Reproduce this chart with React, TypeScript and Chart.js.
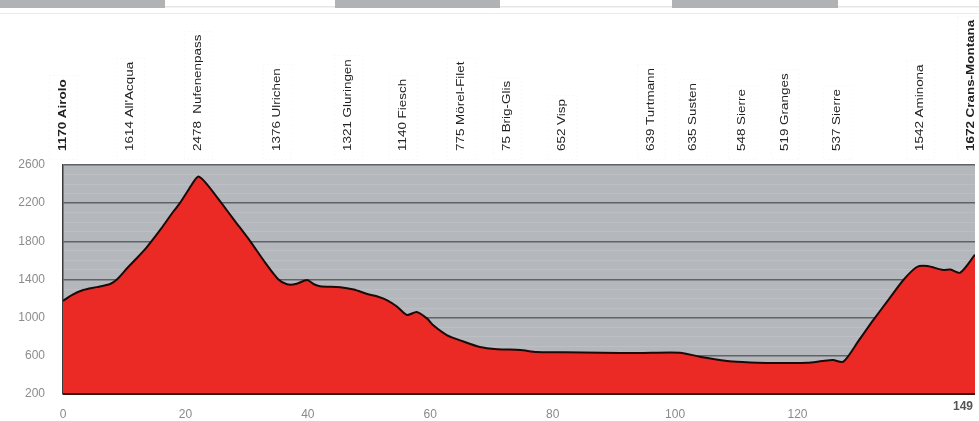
import React, { useEffect, useRef } from "react";
import { Chart, registerables } from "chart.js";

Chart.register(...registerables);

// Profile: distance (km) and altitude (m)
const distanceKm = [
  0, 1.5, 3.3, 5.5, 7.7, 8.8, 10.5, 12, 13.7, 16, 18, 19.1, 20.5, 21.5, 22.2, 23.5, 25.9, 28,
  30.6, 33, 35.2, 36.6, 38, 39.9, 41, 42, 45.3, 47.5, 49.7, 51.5, 52.9, 54.5, 56.2, 57.8, 59.5,
  60.5, 62.7, 65, 68.1, 71, 74.7, 77.4, 82, 88, 94, 100.8, 104, 108.5, 111, 115, 121.6, 124,
  125.8, 127.5, 130, 132.4, 135, 137.3, 139.5, 141.2, 143.8, 145, 146.6, 149,
];
const altitudeM = [
  1175, 1240, 1290, 1320, 1353, 1400, 1520, 1620, 1740, 1930, 2110, 2200, 2340, 2440, 2478, 2400,
  2200, 2020, 1800, 1580, 1400, 1350, 1352, 1395, 1350, 1330, 1320, 1295, 1248, 1220, 1185,
  1120, 1028, 1060, 990, 920, 818, 760, 693, 670, 661, 640, 638, 632, 630, 633, 591, 546, 535,
  525, 528, 545, 556, 539, 760, 976, 1200, 1395, 1531, 1541, 1500, 1505, 1471, 1660,
];

// Place labels along the route
const placeKm = [0, 11, 22, 35, 46.5, 55.5, 65, 72.5, 81.5, 96, 103, 111, 118, 126.5, 140, 148.3];
const placeLabels = [
  "1170 Airolo",
  "1614 All'Acqua",
  "2478  Nufenenpass",
  "1376 Ulrichen",
  "1321 Gluringen",
  "1140 Fiesch",
  "775 Mörel-Filet",
  "75 Brig-Glis",
  "652 Visp",
  "639 Turtmann",
  "635 Susten",
  "548 Sierre",
  "519 Granges",
  "537 Sierre",
  "1542 Aminona",
  "1672 Crans-Montana",
];
const placeBold = [true, false, false, false, false, false, false, false, false, false, false, false, false, false, false, true];

const xTickValues = [0, 20, 40, 60, 80, 100, 120, 149];
const yTickValues = [200, 600, 1000, 1400, 1800, 2200, 2600];

const FONT = "'Liberation Sans', Arial, sans-serif";

export default function App() {
  const canvasRef = useRef<HTMLCanvasElement | null>(null);

  useEffect(() => {
    document.body.style.margin = "0";
    const canvas = canvasRef.current;
    if (!canvas) return;

    const decorPlugin = {
      id: "decor",
      beforeDraw(chart: any) {
        const { ctx, chartArea } = chart;
        ctx.save();
        ctx.fillStyle = "#ffffff";
        ctx.fillRect(0, 0, chart.width, chart.height);
        ctx.fillStyle = "#b4b7bc";
        ctx.fillRect(chartArea.left, chartArea.top, chartArea.right - chartArea.left, chartArea.bottom - chartArea.top);
        ctx.restore();
      },
      afterDraw(chart: any) {
        const { ctx, chartArea } = chart;
        const xs = chart.scales.x;
        ctx.save();
        // header stripes
        const bands = [
          [0, 165, true],
          [165, 335, false],
          [335, 500, true],
          [500, 672, false],
          [672, 838, true],
          [838, 979, false],
        ];
        for (const [a, b, g] of bands as any) {
          if (g) {
            ctx.fillStyle = "#b1b2b4";
            ctx.fillRect(a, 0, b - a, 8);
          } else {
            ctx.fillStyle = "#e6e6e6";
            ctx.fillRect(a, 6, b - a, 1.5);
          }
        }
        ctx.strokeStyle = "#ececec";
        ctx.lineWidth = 1;
        ctx.beginPath();
        ctx.moveTo(0, 13.5);
        ctx.lineTo(979, 13.5);
        ctx.stroke();

        // place labels (rotated)
        placeLabels.forEach((label, i) => {
          const px = xs.getPixelForValue(placeKm[i]);
          ctx.save();
          ctx.font = `${placeBold[i] ? "bold " : ""}11px ${FONT}`;
          const w = ctx.measureText(label).width * 1.22;
          // very faint dotted box
          ctx.setLineDash([1, 3]);
          ctx.strokeStyle = "rgba(0,0,0,0.05)";
          ctx.strokeRect(Math.round(px - 14) + 0.5, Math.round(151 - w - 4) + 0.5, 28, Math.round(w + 12));
          ctx.setLineDash([]);
          ctx.translate(px, 151);
          ctx.rotate(-Math.PI / 2);
          ctx.scale(1.22, 1);
          ctx.fillStyle = "#222222";
          ctx.textAlign = "left";
          ctx.textBaseline = "middle";
          ctx.fillText(label, 0, 0);
          ctx.restore();
        });

        // x tick labels
        xTickValues.forEach((v, i) => {
          const px = xs.getPixelForValue(v);
          const last = i === xTickValues.length - 1;
          ctx.font = `${last ? "bold " : ""}12px ${FONT}`;
          ctx.fillStyle = last ? "#555555" : "#8a8a8a";
          ctx.textBaseline = "middle";
          ctx.textAlign = last ? "right" : "center";
          ctx.fillText(String(v), last ? px - 2 : px, last ? 407 : 415);
        });

        // plot frame bottom
        ctx.strokeStyle = "#3a1210";
        ctx.lineWidth = 2;
        ctx.beginPath();
        ctx.moveTo(chartArea.left, chartArea.bottom);
        ctx.lineTo(chartArea.right, chartArea.bottom);
        ctx.stroke();
        ctx.restore();
      },
    };

    const chart = new Chart(canvas, {
      type: "line",
      data: {
        datasets: [
          {
            data: distanceKm.map((x, i) => ({ x, y: altitudeM[i] })),
            backgroundColor: "#ec2a25",
            borderColor: "#1c0a08",
            borderWidth: 2,
            fill: "start",
            pointRadius: 0,
            tension: 0.25,
          },
        ],
      },
      options: {
        responsive: false,
        animation: false,
        events: [],
        layout: { padding: { top: 165, right: 4, left: 0, bottom: 0 } },
        plugins: { legend: { display: false }, tooltip: { enabled: false } },
        scales: {
          x: {
            type: "linear",
            min: 0,
            max: 149,
            ticks: { display: false },
            grid: { display: false },
            border: { display: false },
            afterFit(scale: any) {
              scale.height = 27;
              scale.paddingLeft = 0;
              scale.paddingRight = 0;
            },
          },
          y: {
            min: 200,
            max: 2600,
            ticks: {
              stepSize: 100,
              autoSkip: false,
              padding: 18,
              color: "#8c8c8c",
              font: { size: 12, family: FONT },
              callback: (v: any) => (yTickValues.includes(Number(v)) ? String(v) : ""),
            },
            grid: {
              drawTicks: false,
              color: (c: any) =>
                yTickValues.includes(c.tick?.value) ? "#606266" : "rgba(255,255,255,0.12)",
              lineWidth: (c: any) => (yTickValues.includes(c.tick?.value) ? 1.5 : 1),
            },
            border: { display: true, color: "#3c3c3c", width: 1.5 },
            afterFit(scale: any) {
              scale.width = 63;
            },
          },
        },
      },
      plugins: [decorPlugin],
    });

    return () => chart.destroy();
  }, []);

  return (
    <div style={{ width: 979, height: 421, background: "#fff" }}>
      <canvas ref={canvasRef} width={979} height={421} style={{ display: "block" }} />
    </div>
  );
}
